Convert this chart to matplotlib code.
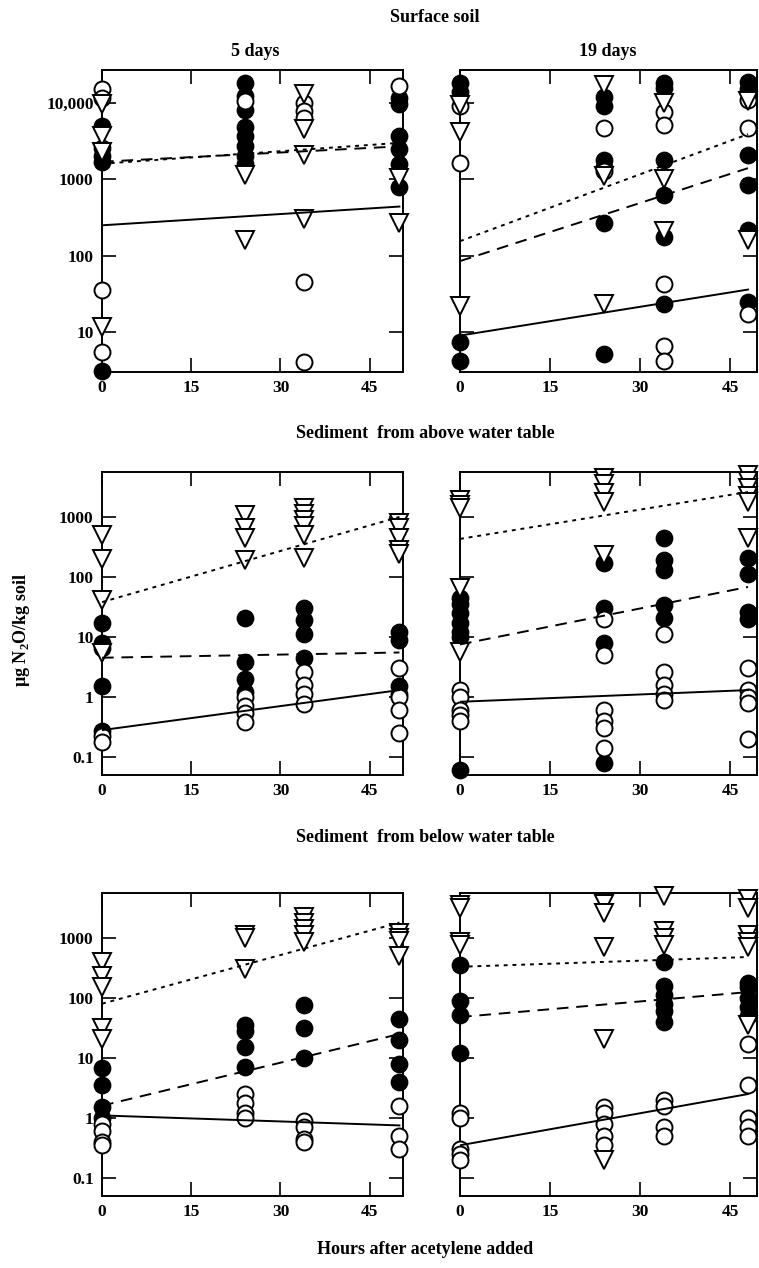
import matplotlib.pyplot as plt
from matplotlib.ticker import NullLocator

plt.rcParams['font.family'] = ['Liberation Serif', 'DejaVu Serif']
plt.rcParams['font.weight'] = 'bold'
plt.rcParams['mathtext.fontset'] = 'custom'
plt.rcParams['mathtext.rm'] = 'Liberation Serif:bold'
plt.rcParams['mathtext.bf'] = 'Liberation Serif:bold'

# sampling times (hours after acetylene added)
hours_5d = [0, 24, 34, 50]
hours_19d = [0, 24, 34, 48]

# Surface soil, 5 days  (one list per sampling time)
surf5_tri = [[9800, 3700, 2300, 11.5], [1150, 160], [13000, 4500, 2100, 300], [1050, 270]]
surf5_fill = [[5000, 2600, 2000, 1700, 3.1], [18000, 12500, 8000, 4800, 3700, 2700, 2000, 1600], [], [11500, 9800, 3700, 2500, 1600, 800]]
surf5_open = [[15000, 11500, 36, 5.5], [10500], [10000, 7900, 6300, 45, 4], [16600]]
surf5_fit = [[250, 440], [1700, 2700], [1600, 3000]]  # open, filled, triangle

# Surface soil, 19 days
surf19_tri = [[9500, 4200, 22], [17000, 1100, 23], [10000, 1000, 210], [10500, 160]]
surf19_fill = [[18000, 14000, 7.4, 4.2], [12000, 9000, 1800, 1450, 270, 5.2], [18500, 15500, 1800, 630, 175, 23], [19000, 15000, 2100, 850, 220, 25]]
surf19_open = [[9000, 1660], [4700, 1300], [7600, 5200, 42, 6.6, 4.2], [11000, 4700, 17]]
surf19_fit = [[9, 36], [85, 1400], [155, 3900]]

# Sediment from above water table, 5 days
above5_tri = [[500, 200, 41, 5.4], [1070, 660, 450, 190], [1400, 1100, 900, 700, 500, 205], [800, 650, 450, 280, 240]]
above5_fill = [[17, 8, 6.5, 1.5, 0.27], [21, 3.8, 2.0, 1.2], [30, 19, 11, 4.5], [12, 9, 1.5, 1.1]]
above5_open = [[0.22, 0.18], [1.0, 0.7, 0.55, 0.38], [2.6, 1.6, 1.1, 0.75], [3.0, 1.0, 0.6, 0.25]]
above5_fit = [[0.28, 1.3], [4.5, 5.5], [38, 1000]]

# Sediment from above water table, 19 days
above19_tri = [[1900, 1600, 1400, 65, 5.6], [4500, 3500, 2500, 1800, 230], [], [5000, 4000, 3000, 2200, 1800, 450]]
above19_fill = [[45, 35, 25, 17, 12, 10, 0.06], [170, 30, 8, 0.08], [450, 190, 130, 34, 21], [210, 110, 26, 20]]
above19_open = [[1.3, 1.0, 0.6, 0.5, 0.4], [20, 5, 0.6, 0.4, 0.3, 0.14], [11, 2.6, 1.6, 1.1, 0.9], [3.0, 1.3, 1.0, 0.8, 0.2]]
above19_fit = [[0.83, 1.3], [7.5, 68], [430, 2600]]

# Sediment from below water table, 5 days
below5_tri = [[400, 230, 150, 32, 21], [1100, 1000, 300], [2200, 1800, 1400, 1100, 850], [1200, 1000, 900, 500]]
below5_fill = [[6.8, 3.5, 1.5, 1.0], [35, 28, 15, 7], [76, 32, 10], [45, 20, 8, 4]]
below5_open = [[0.8, 0.6, 0.4, 0.35], [2.5, 1.8, 1.2, 1.0], [0.9, 0.7, 0.45, 0.4], [1.6, 0.5, 0.3]]
below5_fit = [[1.1, 0.75], [1.6, 25], [80, 1800]]

# Sediment from below water table, 19 days
below19_tri = [[3500, 3100, 850, 750], [3700, 2600, 700, 21, 0.2], [5000, 1300, 1000, 750], [4500, 3200, 1100, 850, 700, 35]]
below19_fill = [[350, 90, 52, 12], [], [400, 160, 110, 80, 60, 40], [180, 150, 100, 70, 50]]
below19_open = [[1.2, 1.0, 0.3, 0.25, 0.2], [1.5, 1.2, 0.8, 0.5, 0.35], [2.0, 1.6, 0.7, 0.5], [17, 3.5, 1.0, 0.7, 0.5]]
below19_fit = [[0.35, 2.5], [48, 125], [330, 480]]

W, H = 759, 1268
fig = plt.figure(figsize=(W / 100, H / 100), dpi=100)


def add_axes(x0, y0, x1, y1):
    return fig.add_axes([x0 / W, 1 - y1 / H, (x1 - x0) / W, (y1 - y0) / H])


def panel(ax, hours, tri, fill, opn, fits, xmax, ylim, yt, ytl):
    ms = 11.5
    for h, v in zip(hours, fill):
        ax.plot([h] * len(v), v, 'o', mfc='black', mec='black', ms=ms, mew=1.3, clip_on=False, zorder=3)
    for h, v in zip(hours, opn):
        ax.plot([h] * len(v), v, 'o', mfc='white', mec='black', ms=ms, mew=1.4, clip_on=False, zorder=4)
    for h, v in zip(hours, tri):
        ax.plot([h] * len(v), v, 'v', mfc='white', mec='black', ms=ms + 1, mew=1.4, clip_on=False, zorder=5)
    xe = [0, hours[-1]]
    ax.plot(xe, fits[0], '-', color='black', lw=1.4, zorder=6)
    ax.plot(xe, fits[1], color='black', lw=1.4, dashes=(6, 4), zorder=6)
    ax.plot(xe, fits[2], color='black', lw=1.4, dashes=(2, 2.5), zorder=6)
    ax.set_yscale('log')
    ax.set_xlim(0, xmax)
    ax.set_ylim(*ylim)
    ax.set_xticks([0, 15, 30, 45])
    ax.set_yticks(yt)
    ax.yaxis.set_minor_locator(NullLocator())
    if ytl:
        ax.set_yticklabels(ytl)
    else:
        ax.set_yticklabels([])
    ax.tick_params(direction='in', length=10, width=1.2, top=True, right=True,
                   labelsize=12.5, pad=6)
    for s in ax.spines.values():
        s.set_linewidth(1.4)


top_lim = (3, 27000)
low_lim = (0.05, 5600)
top_t = [10, 100, 1000, 10000]
top_tl = ['10', '100', '1000', '10,000']
low_t = [0.1, 1, 10, 100, 1000]
low_tl = ['0.1', '1', '10', '100', '1000']

rows = [(70, 372), (472, 775), (893, 1196)]
ax = add_axes(102, rows[0][0], 403, rows[0][1])
panel(ax, hours_5d, surf5_tri, surf5_fill, surf5_open, surf5_fit, 50.6, top_lim, top_t, top_tl)
ax = add_axes(460, rows[0][0], 757, rows[0][1])
panel(ax, hours_19d, surf19_tri, surf19_fill, surf19_open, surf19_fit, 49.5, top_lim, top_t, None)
ax = add_axes(102, rows[1][0], 403, rows[1][1])
panel(ax, hours_5d, above5_tri, above5_fill, above5_open, above5_fit, 50.6, low_lim, low_t, low_tl)
ax = add_axes(460, rows[1][0], 757, rows[1][1])
panel(ax, hours_19d, above19_tri, above19_fill, above19_open, above19_fit, 49.5, low_lim, low_t, None)
ax = add_axes(102, rows[2][0], 403, rows[2][1])
panel(ax, hours_5d, below5_tri, below5_fill, below5_open, below5_fit, 50.6, low_lim, low_t, low_tl)
ax = add_axes(460, rows[2][0], 757, rows[2][1])
panel(ax, hours_19d, below19_tri, below19_fill, below19_open, below19_fit, 49.5, low_lim, low_t, None)


def label(x, y, s, **kw):
    fig.text(x / W, 1 - y / H, s, ha='center', va='center', fontsize=13, fontweight='bold', **kw)


label(435, 18, 'Surface soil')
label(255, 52, '5 days')
label(608, 52, '19 days')
label(425, 433, 'Sediment  from above water table')
label(425, 838, 'Sediment  from below water table')
label(425, 1250, 'Hours after acetylene added')
label(22, 630, '\u00b5g N$_2$O/kg soil', rotation=90)

fig.savefig('out.png', dpi=100)
